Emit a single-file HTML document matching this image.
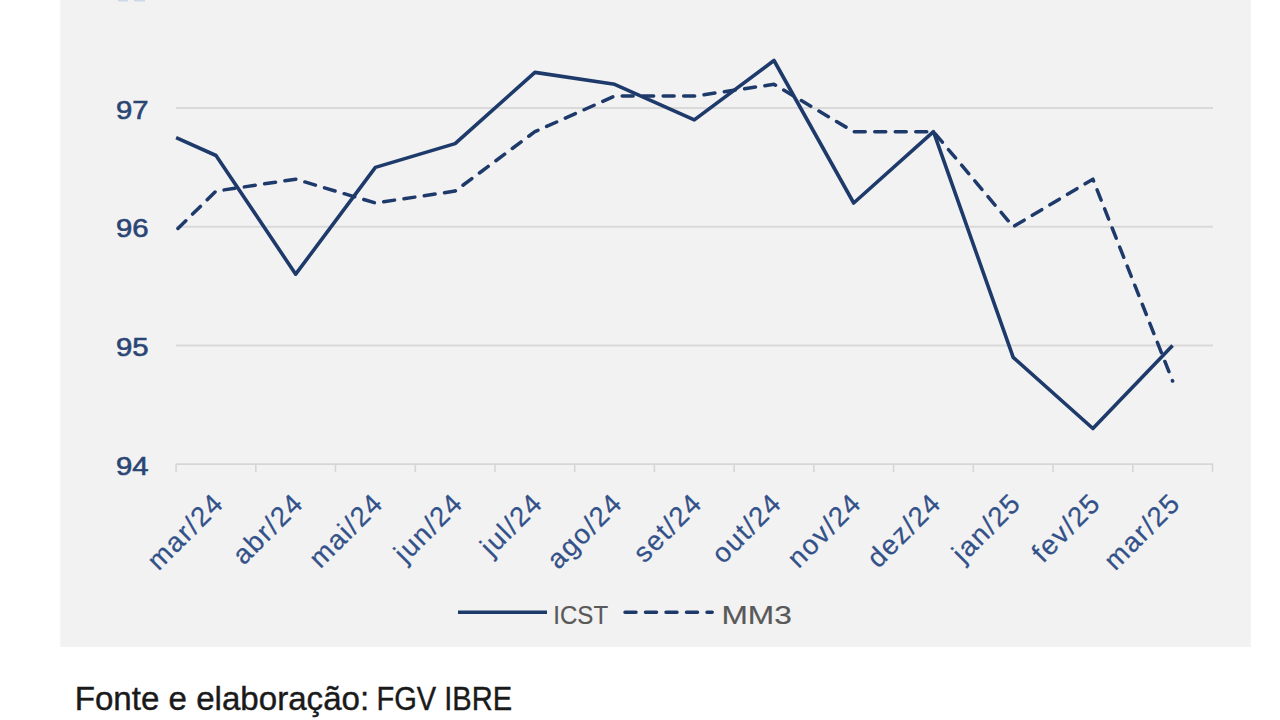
<!DOCTYPE html>
<html><head><meta charset="utf-8"><style>
html,body{margin:0;padding:0;background:#fff;width:1280px;height:720px;overflow:hidden}
svg{display:block;font-family:"Liberation Sans",sans-serif}

</style></head><body>
<svg width="1280" height="720" viewBox="0 0 1280 720">
<rect width="1280" height="720" fill="#fff"/>
<rect x="60.3" y="0" width="1190.5" height="647" fill="#f2f2f2"/>
<line x1="176.1" y1="345.4" x2="1213.0" y2="345.4" stroke="#d9d9d9" stroke-width="2"/>
<line x1="176.1" y1="226.7" x2="1213.0" y2="226.7" stroke="#d9d9d9" stroke-width="2"/>
<line x1="176.1" y1="108.0" x2="1213.0" y2="108.0" stroke="#d9d9d9" stroke-width="2"/>
<line x1="176.1" y1="-10.7" x2="1213.0" y2="-10.7" stroke="#d9d9d9" stroke-width="2"/>
<path d="M176.1,464.1 H1213.0 M176.1,464.1 V472.1 M255.8,464.1 V472.1 M335.5,464.1 V472.1 M415.3,464.1 V472.1 M495.0,464.1 V472.1 M574.7,464.1 V472.1 M654.4,464.1 V472.1 M734.2,464.1 V472.1 M813.9,464.1 V472.1 M893.6,464.1 V472.1 M973.3,464.1 V472.1 M1053.1,464.1 V472.1 M1132.8,464.1 V472.1 M1212.5,464.1 V472.1" stroke="#d6d6d6" stroke-width="1.6" fill="none"/>
<text transform="translate(148.5,474.6) scale(1.12,1)" text-anchor="end" font-size="26.2" fill="#2a4574" stroke="#2a4574" stroke-width="0.6">94</text>
<text transform="translate(148.5,355.9) scale(1.12,1)" text-anchor="end" font-size="26.2" fill="#2a4574" stroke="#2a4574" stroke-width="0.6">95</text>
<text transform="translate(148.5,237.2) scale(1.12,1)" text-anchor="end" font-size="26.2" fill="#2a4574" stroke="#2a4574" stroke-width="0.6">96</text>
<text transform="translate(148.5,118.5) scale(1.12,1)" text-anchor="end" font-size="26.2" fill="#2a4574" stroke="#2a4574" stroke-width="0.6">97</text>
<text transform="translate(225.5,504.6) rotate(-45) scale(1.0,1)" text-anchor="end" font-size="27.5" letter-spacing="1.5" fill="#335189" stroke="#335189" stroke-width="0.25">mar/24</text>
<text transform="translate(305.2,504.6) rotate(-45) scale(1.0,1)" text-anchor="end" font-size="27.5" letter-spacing="1.5" fill="#335189" stroke="#335189" stroke-width="0.25">abr/24</text>
<text transform="translate(384.9,504.6) rotate(-45) scale(1.0,1)" text-anchor="end" font-size="27.5" letter-spacing="1.5" fill="#335189" stroke="#335189" stroke-width="0.25">mai/24</text>
<text transform="translate(464.6,504.6) rotate(-45) scale(1.0,1)" text-anchor="end" font-size="27.5" letter-spacing="1.5" fill="#335189" stroke="#335189" stroke-width="0.25">jun/24</text>
<text transform="translate(544.4,504.6) rotate(-45) scale(1.0,1)" text-anchor="end" font-size="27.5" letter-spacing="1.5" fill="#335189" stroke="#335189" stroke-width="0.25">jul/24</text>
<text transform="translate(624.1,504.6) rotate(-45) scale(1.0,1)" text-anchor="end" font-size="27.5" letter-spacing="1.5" fill="#335189" stroke="#335189" stroke-width="0.25">ago/24</text>
<text transform="translate(703.8,504.6) rotate(-45) scale(1.0,1)" text-anchor="end" font-size="27.5" letter-spacing="1.5" fill="#335189" stroke="#335189" stroke-width="0.25">set/24</text>
<text transform="translate(783.5,504.6) rotate(-45) scale(1.0,1)" text-anchor="end" font-size="27.5" letter-spacing="1.5" fill="#335189" stroke="#335189" stroke-width="0.25">out/24</text>
<text transform="translate(863.2,504.6) rotate(-45) scale(1.0,1)" text-anchor="end" font-size="27.5" letter-spacing="1.5" fill="#335189" stroke="#335189" stroke-width="0.25">nov/24</text>
<text transform="translate(943.0,504.6) rotate(-45) scale(1.0,1)" text-anchor="end" font-size="27.5" letter-spacing="1.5" fill="#335189" stroke="#335189" stroke-width="0.25">dez/24</text>
<text transform="translate(1022.7,504.6) rotate(-45) scale(1.0,1)" text-anchor="end" font-size="27.5" letter-spacing="1.5" fill="#335189" stroke="#335189" stroke-width="0.25">jan/25</text>
<text transform="translate(1102.4,504.6) rotate(-45) scale(1.0,1)" text-anchor="end" font-size="27.5" letter-spacing="1.5" fill="#335189" stroke="#335189" stroke-width="0.25">fev/25</text>
<text transform="translate(1182.1,504.6) rotate(-45) scale(1.0,1)" text-anchor="end" font-size="27.5" letter-spacing="1.5" fill="#335189" stroke="#335189" stroke-width="0.25">mar/25</text>
<rect x="118" y="0" width="10" height="1.5" fill="#cfd8e6"/><rect x="134" y="0" width="11" height="1.5" fill="#cfd8e6"/>
<path d="M176.1,230.3 L216.0,191.1 L295.7,179.2 L375.4,203.0 L455.1,191.1 L534.9,131.7 L614.6,96.1 L694.3,96.1 L774.0,84.3 L853.7,131.7 L933.5,131.7 L1013.2,226.7 L1092.9,179.2 L1172.6,381.0" fill="none" stroke="#1e3a6a" stroke-width="3.5" stroke-dasharray="11,9.5" stroke-dashoffset="-2.6" stroke-linejoin="round" stroke-linecap="round"/>
<path d="M176.1,137.7 L216.0,155.5 L295.7,274.2 L375.4,167.4 L455.1,143.6 L534.9,72.4 L614.6,84.3 L694.3,119.9 L774.0,60.5 L853.7,203.0 L933.5,131.7 L1013.2,357.3 L1092.9,428.5 L1172.6,345.4" fill="none" stroke="#1e3a6a" stroke-width="3.6" stroke-linejoin="round"/>
<line x1="458" y1="612.3" x2="547" y2="612.3" stroke="#1e3a6a" stroke-width="3.6"/>
<text x="553.3" y="623.6" font-size="26" fill="#595959" stroke="#595959" stroke-width="0.2" textLength="54.8" lengthAdjust="spacingAndGlyphs">ICST</text>
<line x1="625" y1="612.3" x2="712.2" y2="612.3" stroke="#1e3a6a" stroke-width="3.5" stroke-dasharray="11,9.5" stroke-linecap="round" stroke-dashoffset="0"/>
<text x="721.5" y="623.6" font-size="26" fill="#595959" stroke="#595959" stroke-width="0.2" textLength="70.3" lengthAdjust="spacingAndGlyphs">MM3</text>
<text x="74.7" y="710.2" font-size="32.5" fill="#1a1a1a" stroke="#1a1a1a" stroke-width="0.4" textLength="294.5" lengthAdjust="spacingAndGlyphs">Fonte e elaboração:</text>
<text x="376.5" y="710.2" font-size="32.5" fill="#1a1a1a" stroke="#1a1a1a" stroke-width="0.4" textLength="135.5" lengthAdjust="spacingAndGlyphs">FGV IBRE</text>
</svg>
</body></html>
